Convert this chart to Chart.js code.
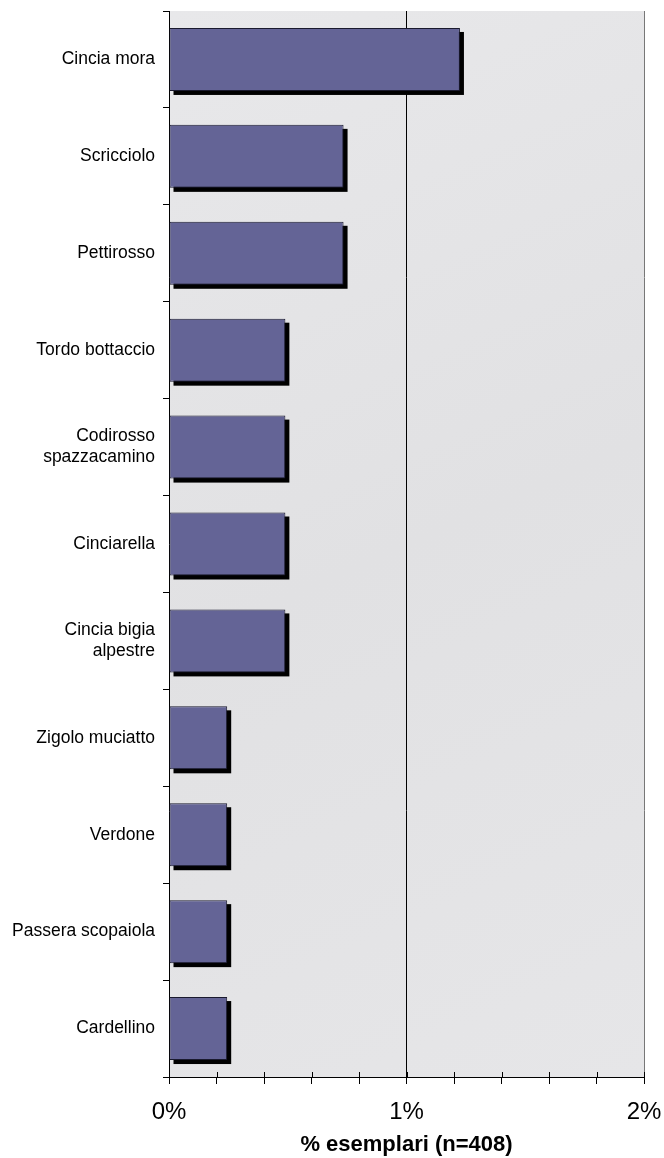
<!DOCTYPE html>
<html>
<head>
<meta charset="utf-8">
<script src="https://cdn.jsdelivr.net/npm/chart.js@4.4.0/dist/chart.umd.min.js"></script>
<style>
html,body{margin:0;padding:0;background:#fff;}
#wrap{position:relative;width:664px;height:1158px;}
</style>
</head>
<body>
<div id="wrap"><canvas id="c" width="664" height="1158"></canvas></div>
<script>
const categories = ['Cincia mora','Scricciolo','Pettirosso','Tordo bottaccio',['Codirosso','spazzacamino'],'Cinciarella',['Cincia bigia','alpestre'],'Zigolo muciatto','Verdone','Passera scopaiola','Cardellino'];
const values = [1.225,0.735,0.735,0.49,0.49,0.49,0.49,0.245,0.245,0.245,0.245];
const xTickValues = [0,0.2,0.4,0.6,0.8,1,1.2,1.4,1.6,1.8,2];
const xTickLabels = {0:'0%',1:'1%',2:'2%'};
const xTitle = '% esemplari (n=408)';

const marble = {
  id:'marble',
  beforeDraw(chart){
    const {ctx, chartArea:a} = chart;
    ctx.save();
    const g = ctx.createLinearGradient(a.left,a.top,a.right,a.bottom);
    g.addColorStop(0,'#e8e8ea');
    g.addColorStop(0.5,'#e1e1e3');
    g.addColorStop(1,'#e6e6e8');
    ctx.fillStyle = g;
    ctx.fillRect(a.left,a.top,a.right-a.left,a.bottom-a.top);
    ctx.restore();
  }
};
const shadow = {
  id:'shadow',
  beforeDatasetsDraw(chart){
    const ctx = chart.ctx;
    const meta = chart.getDatasetMeta(0);
    ctx.save();
    ctx.fillStyle = '#000';
    meta.data.forEach(b=>{
      const p = b.getProps(['x','y','base','height'], true);
      const left = Math.min(p.base,p.x), right = Math.max(p.base,p.x);
      ctx.fillRect(left+4, p.y - p.height/2 + 4, right-left, p.height);
    });
    ctx.restore();
  }
};
const innerTicks = {
  id:'innerTicks',
  afterDraw(chart){
    const ctx = chart.ctx, s = chart.scales.x, a = chart.chartArea;
    ctx.save();
    ctx.strokeStyle = '#000';
    ctx.lineWidth = 1;
    xTickValues.forEach(v=>{
      const x = Math.round(s.getPixelForValue(v)) + 0.5;
      ctx.beginPath();
      ctx.moveTo(x, a.bottom - 5);
      ctx.lineTo(x, a.bottom);
      ctx.stroke();
    });
    ctx.restore();
  }
};

new Chart(document.getElementById('c'), {
  type:'bar',
  data:{labels:categories, datasets:[{data:values, backgroundColor:'#646496', borderColor:'#1a1a2e', borderWidth:1, borderSkipped:false, barPercentage:0.65, categoryPercentage:1}]},
  options:{
    indexAxis:'y', responsive:false, animation:false,
    layout:{padding:{top:11,right:20,left:0,bottom:0}},
    plugins:{legend:{display:false}, tooltip:{enabled:false}},
    scales:{
      y:{
        afterFit(s){ s.width = 169; s.paddingTop = 0; s.paddingBottom = 0; },
        grid:{drawOnChartArea:false, color:'#000', tickColor:'#000', tickLength:6, offset:true},
        border:{color:'#000', width:1},
        ticks:{color:'#000', padding:8, font:{family:'"Liberation Sans", Arial, sans-serif', size:17.5}}
      },
      x:{
        min:0, max:2,
        afterBuildTicks(s){ s.ticks = xTickValues.map(v=>({value:v})); },
        afterFit(s){ s.height = 81; s.paddingLeft = 0; s.paddingRight = 0; },
        grid:{
          color:(c)=> c.tick && Math.abs(c.tick.value-1)<1e-6 ? '#000' : (c.tick && Math.abs(c.tick.value-2)<1e-6 ? '#777' : 'rgba(0,0,0,0)'),
          tickColor:'#000', tickLength:7
        },
        border:{color:'#000', width:1},
        ticks:{color:'#000', padding:14, autoSkip:false, maxRotation:0,
          callback:(v)=>{ const k=Math.round(v*10)/10; return Number.isInteger(k) && xTickLabels[k] !== undefined ? xTickLabels[k] : ''; },
          font:{family:'"Liberation Sans", Arial, sans-serif', size:24}},
        title:{display:true, text:xTitle, color:'#000', padding:{top:0,bottom:0}, font:{family:'"Liberation Sans", Arial, sans-serif', size:22, weight:'bold'}}
      }
    }
  },
  plugins:[marble, shadow, innerTicks]
});
</script>
</body>
</html>
